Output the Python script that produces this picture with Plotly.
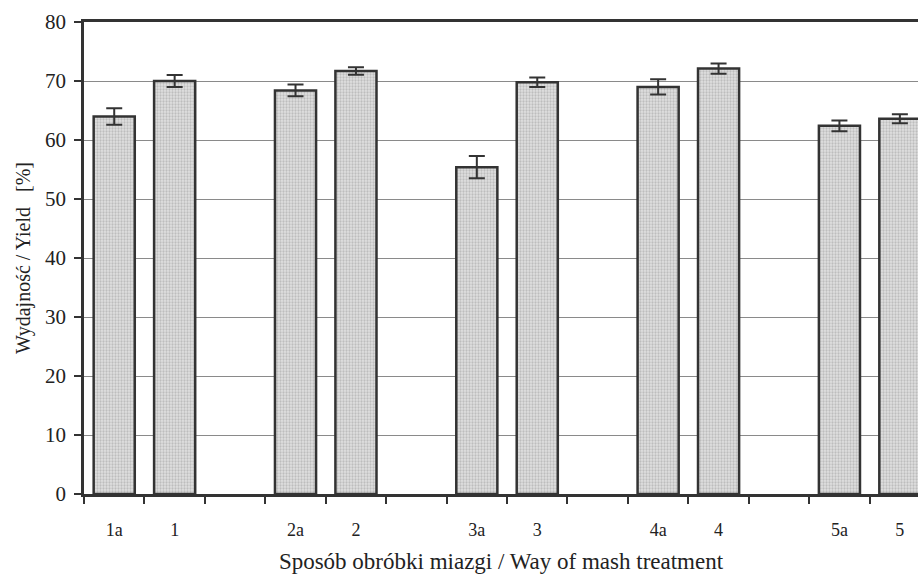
import plotly.graph_objects as go

categories = ["1a", "1", "2a", "2", "3a", "3", "4a", "4", "5a", "5"]
positions = [0, 1, 3, 4, 6, 7, 9, 10, 12, 13]
yield_values = [64.0, 70.0, 68.4, 71.7, 55.4, 69.8, 69.0, 72.1, 62.4, 63.6]
yield_errors = [1.4, 1.0, 1.0, 0.65, 1.9, 0.8, 1.3, 0.85, 0.9, 0.75]
y_ticks = [0, 10, 20, 30, 40, 50, 60, 70, 80]

font_family = "Liberation Serif, Times New Roman, serif"
dark = "#333333"

fig = go.Figure()
fig.add_trace(go.Bar(
    x=positions,
    y=yield_values,
    width=0.68,
    marker=dict(
        color="#d6d6d6",
        line=dict(color=dark, width=2.5),
        pattern=dict(shape=".", fgcolor="#999999", bgcolor="#e0e0e0", size=3, solidity=0.45),
    ),
    error_y=dict(type="data", array=yield_errors, visible=True, color=dark, thickness=2, width=8),
    showlegend=False,
))

fig.update_layout(
    width=918, height=579,
    margin=dict(l=84, r=0, t=22, b=85),
    plot_bgcolor="white", paper_bgcolor="white",
    font=dict(family=font_family, size=18, color="#222"),
    bargap=0.3,
)
fig.update_xaxes(
    range=[-0.5, 13.3], automargin=False,
    tickvals=positions, ticktext=categories,
    ticks="outside", ticklen=18, tickcolor="rgba(0,0,0,0)",
    showline=True, linecolor=dark, linewidth=2.5, mirror=True,
    showgrid=False, zeroline=False,
    tickfont=dict(size=18),
    minor=dict(tickvals=[p - 0.5 for p in range(15)], ticks="outside", ticklen=7,
               tickcolor=dark, tickwidth=2, showgrid=False),
    title=dict(text="Sposób obróbki miazgi / Way of mash treatment", font=dict(size=23), standoff=14),
)
fig.update_yaxes(
    range=[0, 80], tickvals=y_ticks, automargin=False,
    ticks="outside", ticklen=7, tickcolor=dark, tickwidth=2, ticklabelstandoff=4,
    showline=True, linecolor=dark, linewidth=2.5,
    showgrid=True, gridcolor="#8a8a8a", gridwidth=1, zeroline=False,
    tickfont=dict(size=21),
    title=dict(text="Wydajność / Yield\u00a0\u00a0\u00a0[%]", font=dict(size=20), standoff=10),
)

fig.write_html("out.html", config={"displayModeBar": False},
               post_script="document.body.style.margin='0';")
